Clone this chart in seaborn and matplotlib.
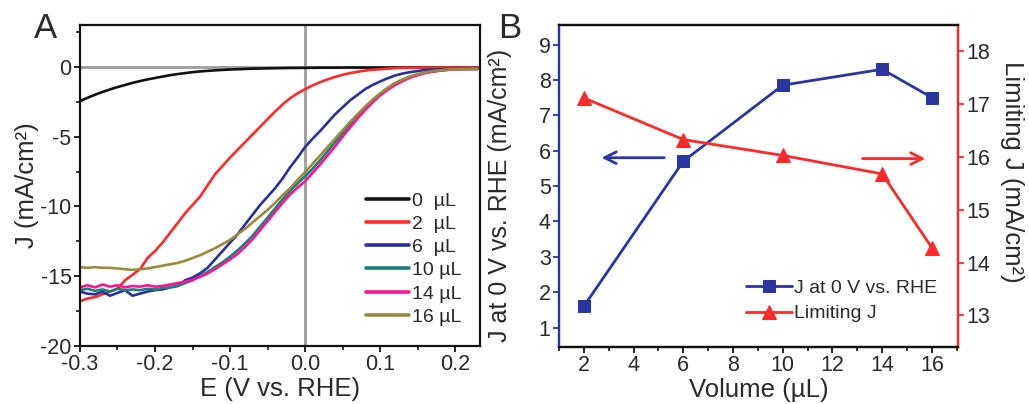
import matplotlib
matplotlib.use("Agg")
import matplotlib.pyplot as plt
import numpy as np
import pandas as pd
import seaborn as sns
from matplotlib.ticker import MultipleLocator

# ---------------- Panel A data ----------------
E = [-0.30, -0.29, -0.28, -0.27, -0.26, -0.25, -0.24, -0.23, -0.22, -0.21,
     -0.20, -0.19, -0.18, -0.17, -0.16, -0.15, -0.14, -0.13, -0.12, -0.11,
     -0.10, -0.09, -0.08, -0.07, -0.06, -0.05, -0.04, -0.03, -0.02, -0.01,
     0.00, 0.01, 0.02, 0.03, 0.04, 0.05, 0.06, 0.07, 0.08, 0.09,
     0.10, 0.11, 0.12, 0.13, 0.14, 0.15, 0.16, 0.17, 0.18, 0.19,
     0.20, 0.21, 0.22, 0.23]

J_0uL = [-2.45, -2.22, -2.0, -1.8, -1.62, -1.45, -1.3, -1.15, -1.02, -0.9,
         -0.8, -0.7, -0.6, -0.52, -0.45, -0.38, -0.33, -0.29, -0.25, -0.22,
         -0.19, -0.17, -0.15, -0.13, -0.12, -0.11, -0.1, -0.09, -0.08, -0.08,
         -0.07, -0.07, -0.06, -0.06, -0.06, -0.05, -0.05, -0.05, -0.05, -0.05,
         -0.05, -0.05, -0.05, -0.05, -0.05, -0.05, -0.05, -0.05, -0.05, -0.05,
         -0.05, -0.05, -0.05, -0.05]

J_2uL = [-16.8, -16.6, -16.5, -16.3, -16.1, -15.9, -15.3, -14.9, -14.5, -13.7,
         -13.2, -12.6, -11.9, -11.2, -10.5, -9.9, -9.3, -8.5, -7.7, -7.1,
         -6.5, -5.95, -5.4, -4.85, -4.3, -3.75, -3.2, -2.7, -2.25, -1.9,
         -1.6, -1.33, -1.1, -0.9, -0.72, -0.57, -0.45, -0.35, -0.27, -0.21,
         -0.17, -0.13, -0.1, -0.08, -0.07, -0.06, -0.05, -0.05, -0.05, -0.05,
         -0.05, -0.05, -0.05, -0.05]

J_6uL = [-16.1, -16.25, -16.3, -16.1, -16.4, -16.2, -16.0, -16.4, -16.25, -16.1,
         -16.0, -15.95, -15.8, -15.7, -15.3, -15.1, -14.8, -14.4, -13.8, -13.2,
         -12.6, -12.0, -11.3, -10.6, -9.9, -9.3, -8.7, -8.0, -7.2, -6.5,
         -5.75, -5.15, -4.6, -4.0, -3.4, -2.9, -2.4, -2.0, -1.6, -1.3,
         -1.05, -0.82, -0.62, -0.48, -0.38, -0.3, -0.23, -0.2, -0.17, -0.16,
         -0.15, -0.15, -0.15, -0.15]

J_10uL = [-16.0, -15.9, -16.05, -15.95, -16.1, -15.9, -16.0, -15.95, -16.0, -15.9,
          -15.95, -15.85, -15.8, -15.7, -15.5, -15.3, -15.0, -14.7, -14.35, -14.0,
          -13.6, -13.15, -12.65, -12.1, -11.45, -10.8, -10.15, -9.5, -8.9, -8.35,
          -7.85, -7.3, -6.7, -6.05, -5.4, -4.75, -4.1, -3.5, -2.9, -2.4,
          -1.95, -1.55, -1.2, -0.93, -0.72, -0.55, -0.42, -0.33, -0.26, -0.21,
          -0.18, -0.16, -0.15, -0.15]

J_14uL = [-15.8, -15.65, -15.8, -15.6, -15.75, -15.65, -15.8, -15.7, -15.75, -15.65,
          -15.75, -15.7, -15.6, -15.5, -15.4, -15.25, -15.05, -14.8, -14.5, -14.15,
          -13.8, -13.4, -12.9, -12.35, -11.7, -11.05, -10.4, -9.75, -9.15, -8.65,
          -8.2, -7.6, -7.0, -6.35, -5.7, -5.0, -4.35, -3.7, -3.1, -2.55,
          -2.05, -1.65, -1.3, -1.02, -0.78, -0.6, -0.45, -0.35, -0.27, -0.22,
          -0.18, -0.16, -0.15, -0.15]

J_16uL = [-14.35, -14.4, -14.35, -14.4, -14.4, -14.45, -14.5, -14.55, -14.5, -14.45,
          -14.35, -14.25, -14.15, -14.05, -13.9, -13.7, -13.5, -13.25, -13.0, -12.7,
          -12.4, -12.0, -11.6, -11.15, -10.7, -10.25, -9.75, -9.2, -8.7, -8.1,
          -7.55, -6.95, -6.35, -5.75, -5.15, -4.55, -3.95, -3.4, -2.85, -2.35,
          -1.9, -1.5, -1.15, -0.9, -0.68, -0.52, -0.4, -0.31, -0.25, -0.2,
          -0.18, -0.16, -0.15, -0.15]

sample_labels = ["0  \u00b5L", "2  \u00b5L", "6  \u00b5L", "10 \u00b5L", "14 \u00b5L", "16 \u00b5L"]
sample_colors = ["#111111", "#ff2a2a", "#2b2f9c", "#17807e", "#ff1493", "#998a3e"]

# ---------------- Panel B data ----------------
volume = [2, 6, 10, 14, 16]
j_at_0V = [1.6, 5.7, 7.85, 8.3, 7.5]
limiting_j = [17.12, 16.33, 16.03, 15.68, 14.28]

# ---------------- Style ----------------
sns.set_theme(style="ticks")
plt.rcParams["font.family"] = ["Liberation Sans", "DejaVu Sans"]
txt = "#2a2a2a"
plt.rcParams.update({
    "text.color": txt, "axes.labelcolor": txt,
    "xtick.color": "#111111", "ytick.color": "#111111",
    "xtick.labelcolor": txt, "ytick.labelcolor": txt,
})

TICK_FS = 15.5
LABEL_FS = 18.5
LEG_FS = 14

fig = plt.figure(figsize=(10.29, 4.04), dpi=100)
axA = fig.add_axes([0.0777, 0.1436, 0.3887, 0.7946])
axB = fig.add_axes([0.5432, 0.141, 0.3878, 0.797])

# ---------------- Panel A ----------------
curves = [J_0uL, J_2uL, J_6uL, J_10uL, J_14uL, J_16uL]
frames = []
for lab, vals in zip(sample_labels, curves):
    frames.append(pd.DataFrame({"E": E, "J": vals, "sample": lab}))
dfA = pd.concat(frames, ignore_index=True)

axA.axhline(0, color="#9c9c9c", lw=2.0, zorder=0.5)
axA.axvline(0, color="#9c9c9c", lw=2.0, zorder=0.5)
sns.lineplot(data=dfA, x="E", y="J", hue="sample", hue_order=sample_labels,
             palette=dict(zip(sample_labels, sample_colors)), sort=False,
             estimator=None, lw=1.9, ax=axA)
axA.set_xlim(-0.3, 0.233)
axA.set_ylim(-20, 3)
axA.xaxis.set_major_locator(MultipleLocator(0.1))
axA.xaxis.set_minor_locator(MultipleLocator(0.05))
axA.yaxis.set_major_locator(MultipleLocator(5))
axA.yaxis.set_minor_locator(MultipleLocator(2.5))
axA.set_xticks([-0.3, -0.2, -0.1, 0.0, 0.1, 0.2])
axA.set_xticklabels(["-0.3", "-0.2", "-0.1", "0.0", "0.1", "0.2"])
axA.set_yticks([-20, -15, -10, -5, 0])
axA.set_yticklabels(["-20", "-15", "-10", "-5", "0"])
axA.set_xlabel("E (V vs. RHE)", fontsize=LABEL_FS, labelpad=1)
axA.set_ylabel("J (mA/cm\u00b2)", fontsize=LABEL_FS, labelpad=1)
for s in axA.spines.values():
    s.set_visible(True)
    s.set_color("#111111")
    s.set_linewidth(1.6)
axA.tick_params(which="major", direction="out", length=4, width=1.3,
                labelsize=TICK_FS, pad=2)
axA.tick_params(which="minor", direction="out", length=3, width=1.2)
h, l = axA.get_legend_handles_labels()
for hh in h:
    hh.set_linewidth(2.6)
axA.legend(h, l, loc="upper left", bbox_to_anchor=(0.715, 0.48), frameon=False,
           fontsize=LEG_FS, handlelength=2.2, handletextpad=0.15,
           labelspacing=0.29, borderpad=0, borderaxespad=0)
fig.text(0.033, 0.905, "A", fontsize=25, color=txt)

# ---------------- Panel B ----------------
blue = "#2b35a0"
red = "#ff2a2a"
dfB = pd.DataFrame({"volume": volume, "j0": j_at_0V, "jlim": limiting_j})
sns.lineplot(data=dfB, x="volume", y="j0", ax=axB, color=blue, lw=2.0,
             marker="s", markersize=8, markeredgecolor=blue,
             label="J at 0 V vs. RHE", legend=False)
axB2 = axB.twinx()
sns.lineplot(data=dfB, x="volume", y="jlim", ax=axB2, color=red, lw=2.0,
             marker="^", markersize=9.5, markeredgecolor=red,
             label="Limiting J", legend=False)

axB.set_xlim(1.0, 17.05)
axB.set_ylim(0.45, 9.55)
axB2.set_ylim(12.4, 18.5)
axB.set_xticks([2, 4, 6, 8, 10, 12, 14, 16])
axB.xaxis.set_minor_locator(MultipleLocator(1))
axB.set_yticks([1, 2, 3, 4, 5, 6, 7, 8, 9])
axB2.set_yticks([13, 14, 15, 16, 17, 18])
axB.set_xlabel("Volume (\u00b5L)", fontsize=LABEL_FS, labelpad=1)
axB.set_ylabel("J at 0 V vs. RHE (mA/cm\u00b2)", fontsize=18)
axB.yaxis.set_label_coords(-0.118, 0.47)
axB2.set_ylabel("Limiting J (mA/cm\u00b2)", fontsize=LABEL_FS, rotation=270,
                va="center")
axB2.yaxis.set_label_coords(1.135, 0.545)
for ax in (axB, axB2):
    for s in ax.spines.values():
        s.set_visible(True)
        s.set_color("#111111")
        s.set_linewidth(1.6)
axB.spines["left"].set_color(blue)
axB2.spines["left"].set_color(blue)
axB2.spines["right"].set_color(red)
axB.spines["right"].set_color(red)
axB.tick_params(which="major", direction="out", length=4, width=1.3,
                labelsize=TICK_FS, pad=2)
axB.tick_params(which="minor", direction="out", length=3, width=1.2)
axB.tick_params(axis="y", which="both", color=blue)
axB2.tick_params(axis="y", which="major", direction="out", length=4, width=1.3,
                 labelsize=TICK_FS, pad=2, color=red)

# direction arrows
axB.annotate("", xy=(2.6, 5.8), xytext=(5.35, 5.8),
             arrowprops=dict(arrowstyle="->,head_length=0.7,head_width=0.35",
                             color=blue, lw=2.0))
axB2.annotate("", xy=(15.85, 15.97), xytext=(13.1, 15.97),
              arrowprops=dict(arrowstyle="->,head_length=0.7,head_width=0.35",
                              color=red, lw=2.0))

hB1, lB1 = axB.get_legend_handles_labels()
hB2, lB2 = axB2.get_legend_handles_labels()
axB2.legend(hB1 + hB2, lB1 + lB2, loc="upper left", bbox_to_anchor=(0.468, 0.21),
            frameon=False, fontsize=LEG_FS, handlelength=2.4, handletextpad=0.1,
            labelspacing=0.4, borderpad=0, borderaxespad=0)
fig.text(0.484, 0.905, "B", fontsize=25, color=txt)

fig.savefig("out.png", dpi=100)
